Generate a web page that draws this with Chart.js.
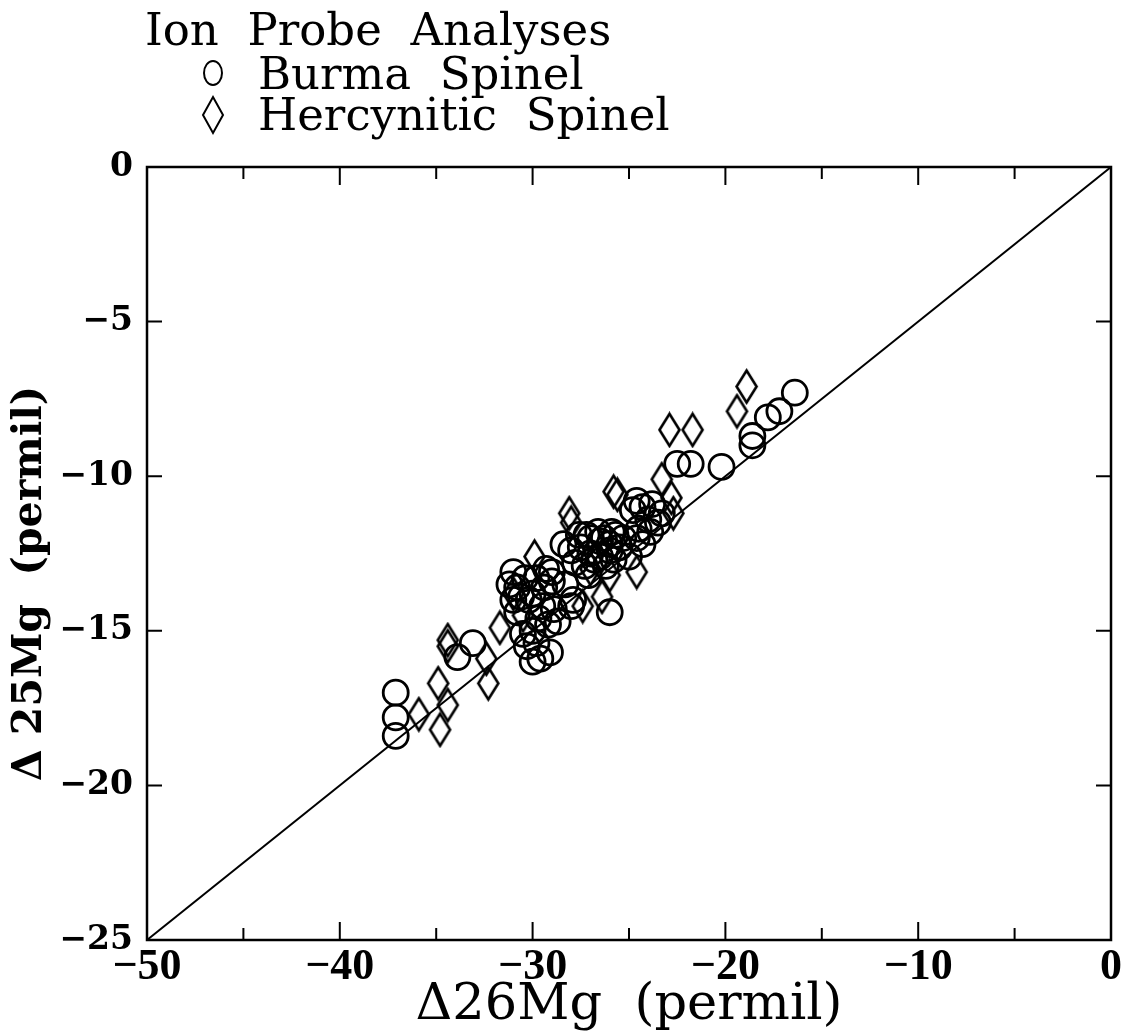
<!DOCTYPE html>
<html>
<head>
<meta charset="utf-8">
<script src="https://cdn.jsdelivr.net/npm/chart.js@4.4.1/dist/chart.umd.min.js"></script>
<style>
  body { margin: 0; background: #fff; }
  #wrap { width: 1128px; height: 1033px; position: relative; }
</style>
</head>
<body>
<div id="wrap"><canvas id="chart"></canvas></div>
<script>
// Burma spinel (circles)
const burmaX = [-16.4, -17.2, -17.8, -18.6, -18.6, -20.2, -21.8, -22.5,
  -24.6, -24.3, -23.8, -23.3, -24.0, -24.5, -24.6, -24.3, -23.9, -25.0, -24.8, -23.5,
  -27.0, -26.5, -26.0, -25.5, -27.5, -27.0, -26.5, -26.0, -25.7, -27.8, -27.3, -26.8, -26.3, -25.8, -28.0, -27.2, -26.6, -25.3,
  -26.2, -27.6, -25.9, -28.4, -27.1,
  -31.0, -30.8, -29.3, -29.0, -27.9, -30.8, -30.5, -29.8, -29.6, -29.1, -30.2, -29.5, -30.0, -29.2, -30.3, -28.9, -29.8, -31.0, -28.3, -29.4, -30.0,
  -30.6, -29.7, -30.0, -29.0, -31.2, -30.4, -28.7,
  -26.0, -33.1, -33.9, -37.1, -37.1, -37.1, -28.0];
const burmaY = [-7.3, -7.9, -8.1, -8.7, -9.0, -9.7, -9.6, -9.6,
  -10.8, -11.0, -10.9, -11.2, -11.4, -11.7, -12.0, -12.2, -11.8, -12.6, -11.1, -11.5,
  -12.0, -12.1, -12.2, -12.3, -12.3, -12.5, -12.6, -12.4, -11.9, -12.8, -12.9, -12.7, -12.0, -12.7, -12.4, -11.9, -11.8, -12.0,
  -12.9, -11.9, -11.8, -12.2, -13.2,
  -13.1, -13.6, -13.0, -13.4, -14.0, -14.4, -15.1, -15.4, -15.9, -15.7, -14.0, -14.2, -13.8, -14.8, -15.5, -14.3, -13.3, -14.0, -13.5, -13.6, -16.0,
  -13.9, -14.6, -15.0, -13.1, -13.5, -13.3, -14.7,
  -14.4, -15.4, -15.85, -17.0, -17.8, -18.4, -14.2];

// Hercynitic spinel (diamonds)
const hercX = [-18.9, -19.4, -22.9, -21.7, -25.8, -23.3, -22.8, -22.7, -25.6,
  -24.6, -28.1, -28.0, -26.4, -29.9, -27.4, -31.7, -27.0, -26.0, -31.0, -30.5,
  -34.4, -34.4, -34.9, -34.4, -34.8, -35.9, -32.3, -32.4];
const hercY = [-7.1, -7.9, -8.5, -8.5, -10.5, -10.1, -10.7, -11.2, -10.6,
  -13.1, -11.2, -11.5, -13.9, -12.6, -14.2, -14.9, -13.0, -13.2, -13.8, -14.5,
  -15.3, -15.5, -16.7, -17.4, -18.2, -17.7, -16.7, -15.9];

// 1:2 reference line
const lineX = [-50, 0];
const lineY = [-25, 0];

const xTicks = [-50, -40, -30, -20, -10, 0];
const yTicks = [-25, -20, -15, -10, -5, 0];

const legendTitle = 'Ion Probe Analyses';
const legendNames = ['Burma Spinel', 'Hercynitic Spinel'];
const yTitle = 'Δ 25Mg  (permil)';

const serif = '"DejaVu Serif", "Liberation Serif", serif';

function toPts(xs, ys) {
  return xs.map((x, i) => ({ x: x, y: ys[i] }));
}

function fmt(v) {
  return v < 0 ? '\u2212' + Math.abs(v) : String(v);
}

// tall narrow diamond marker
function makeDiamond(w, h, lw) {
  const c = document.createElement('canvas');
  c.width = w + lw * 2;
  c.height = h + lw * 2;
  const g = c.getContext('2d');
  const cx = c.width / 2, cy = c.height / 2;
  g.strokeStyle = '#000';
  g.lineWidth = lw;
  g.beginPath();
  g.moveTo(cx, cy - h / 2);
  g.lineTo(cx + w / 2, cy);
  g.lineTo(cx, cy + h / 2);
  g.lineTo(cx - w / 2, cy);
  g.closePath();
  g.stroke();
  return c;
}
const diamond = makeDiamond(20, 32, 2.6);

// frame + inward ticks on all four sides
const framePlugin = {
  id: 'frame',
  afterDatasetsDraw(chart) {
    const { ctx, chartArea: a, scales: { x, y } } = chart;
    ctx.save();
    ctx.strokeStyle = '#000';
    ctx.lineWidth = 2.5;
    ctx.strokeRect(a.left, a.top, a.right - a.left, a.bottom - a.top);
    ctx.lineWidth = 2;
    ctx.beginPath();
    for (let v = -45; v < 0; v += 5) {
      const px = x.getPixelForValue(v);
      const len = v % 10 === 0 ? 18 : 12;
      ctx.moveTo(px, a.bottom); ctx.lineTo(px, a.bottom - len);
      ctx.moveTo(px, a.top); ctx.lineTo(px, a.top + len);
    }
    for (let v = -20; v < 0; v += 5) {
      const py = y.getPixelForValue(v);
      ctx.moveTo(a.left, py); ctx.lineTo(a.left + 15, py);
      ctx.moveTo(a.right, py); ctx.lineTo(a.right - 15, py);
    }
    ctx.stroke();
    ctx.restore();
  }
};

// stacked legend in the upper left, plus the rotated y title
const legendPlugin = {
  id: 'stackLegend',
  afterDraw(chart) {
    const ctx = chart.ctx;
    const a = chart.chartArea;
    ctx.save();
    ctx.fillStyle = '#000';
    ctx.strokeStyle = '#000';
    ctx.textBaseline = 'alphabetic';
    ctx.font = '45px ' + serif;
    ctx.fillText(legendTitle.replace(/ /g, '  '), 145, 45);
    ctx.fillText(legendNames[0].replace(/ /g, '  '), 258, 89);
    ctx.fillText(legendNames[1].replace(/ /g, '  '), 258, 130);
    ctx.lineWidth = 2;
    ctx.beginPath();
    ctx.ellipse(213, 73, 9, 12, 0, 0, Math.PI * 2);
    ctx.stroke();
    ctx.beginPath();
    ctx.moveTo(213, 97); ctx.lineTo(223, 115); ctx.lineTo(213, 133); ctx.lineTo(203, 115);
    ctx.closePath();
    ctx.stroke();

    ctx.translate(30, (a.top + a.bottom) / 2 + 30);
    ctx.rotate(-Math.PI / 2);
    ctx.font = 'bold 41px ' + serif;
    ctx.textAlign = 'center';
    ctx.textBaseline = 'middle';
    ctx.fillText(yTitle, 0, 0);
    ctx.restore();
  }
};

new Chart(document.getElementById('chart'), {
  type: 'scatter',
  data: {
    datasets: [
      {
        type: 'line',
        label: 'line',
        data: toPts(lineX, lineY),
        borderColor: '#000',
        borderWidth: 2,
        pointRadius: 0,
        fill: false
      },
      {
        label: legendNames[0],
        data: toPts(burmaX, burmaY),
        pointStyle: 'circle',
        pointRadius: 12.5,
        borderColor: '#000',
        borderWidth: 2.8,
        backgroundColor: 'rgba(0,0,0,0)'
      },
      {
        label: legendNames[1],
        data: toPts(hercX, hercY),
        pointStyle: diamond,
        pointRadius: 12
      }
    ]
  },
  options: {
    responsive: true,
    maintainAspectRatio: false,
    animation: false,
    layout: { padding: { top: 167, right: 16, left: 0, bottom: 0 } },
    plugins: {
      legend: { display: false },
      tooltip: { enabled: false }
    },
    scales: {
      x: {
        type: 'linear',
        min: -50,
        max: 0,
        afterBuildTicks: s => { s.ticks = xTicks.map(v => ({ value: v })); },
        afterFit: s => { s.height = 93; },
        grid: { display: false, drawTicks: false },
        border: { display: false },
        ticks: {
          color: '#000',
          padding: 6,
          maxRotation: 0,
          autoSkip: false,
          font: { family: '"Liberation Serif", serif', size: 44, weight: 'bold', lineHeight: 1 },
          callback: fmt
        },
        title: {
          display: true,
          text: 'Δ26Mg  (permil)',
          color: '#000',
          font: { family: serif, size: 51, lineHeight: 1 },
          padding: { top: 0, bottom: 2 }
        }
      },
      y: {
        type: 'linear',
        min: -25,
        max: 0,
        afterBuildTicks: s => { s.ticks = yTicks.map(v => ({ value: v })); },
        afterFit: s => { s.width = 147; },
        grid: { display: false, drawTicks: false },
        border: { display: false },
        ticks: {
          color: '#000',
          padding: 14,
          autoSkip: false,
          font: { family: serif, size: 33, weight: 'bold' },
          callback: fmt
        }
      }
    }
  },
  plugins: [framePlugin, legendPlugin]
});
</script>
</body>
</html>
